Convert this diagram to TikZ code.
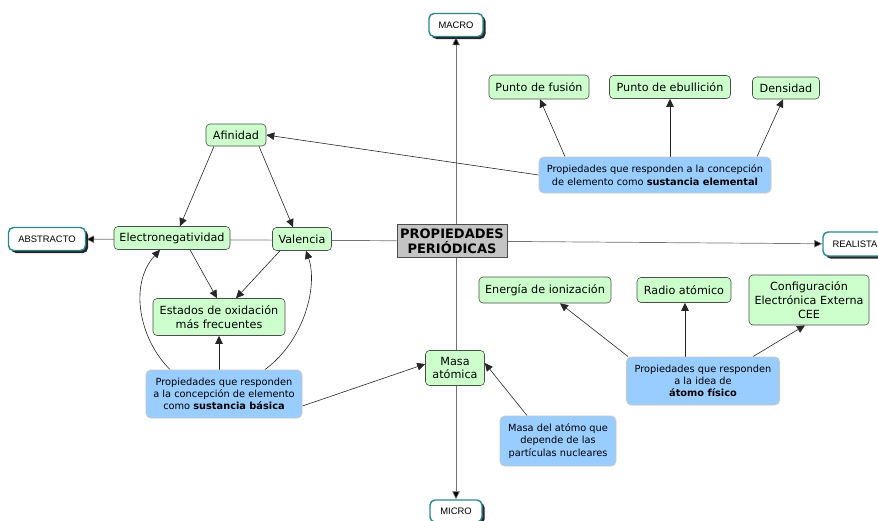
\documentclass[tikz,border=0pt]{standalone}
\usepackage{fontspec}
\setmainfont{DejaVu Sans}
\newfontfamily\polefont{Liberation Sans}
\usetikzlibrary{arrows.meta,shadows,backgrounds}

\definecolor{conceptgreen}{HTML}{CCFFCC}
\definecolor{noteblue}{HTML}{99CCFF}
\definecolor{poleteal}{HTML}{2A868C}
\definecolor{centergray}{HTML}{C4C4C4}

\tikzset{
  concept/.style={draw=black!70, fill=conceptgreen, rounded corners=4pt,
    line width=0.6pt, align=center, inner sep=2pt,
    font=\fontsize{11.2}{13.8}\selectfont},
  note/.style={draw=black!22, fill=noteblue, rounded corners=5pt,
    line width=0.9pt, align=center, inner sep=2pt,
    font=\fontsize{9.8}{12.3}\selectfont},
  pole/.style={draw=poleteal, fill=white, rounded corners=5pt,
    line width=1.4pt, align=center, inner sep=2pt,
    font=\polefont\fontsize{9.4}{10}\selectfont,
    drop shadow={shadow xshift=2.5pt, shadow yshift=-2.5pt, fill=black!85, opacity=1}},
  central/.style={draw=black!70, fill=centergray, line width=0.8pt,
    align=center, inner sep=2pt,
    font=\bfseries\fontsize{13}{15}\selectfont},
  link/.style={draw=black!85, line width=0.6pt,
    -{Triangle[length=8pt,width=7.5pt]}},
  axis/.style={draw=black!55, line width=0.7pt},
  axisarrow/.style={axis, -{Triangle[length=8pt,width=7.5pt,fill=black]}}
}

\begin{document}
\begin{tikzpicture}[x=1pt,y=-1pt]
\useasboundingbox (0,0) rectangle (878,520);

% poles of the two axes
\node[pole, minimum width=54pt, minimum height=23pt] (macro) at (456,25) {MACRO};
\node[pole, minimum width=52pt, minimum height=22pt] (micro) at (456,511) {MICRO};
\node[pole, minimum width=77pt, minimum height=23pt] (abstracto) at (47,239) {ABSTRACTO};
\node[pole, minimum width=64pt, minimum height=24pt] (realista) at (855,244) {REALISTA};

% central concept
\node[central, minimum width=110pt, minimum height=33pt] (prop) at (452,241)
  {PROPIEDADES\\PERIÓDICAS};

% left group
\node[concept, minimum width=60pt, minimum height=22pt] (afinidad) at (236,135) {Afinidad};
\node[concept, minimum width=116pt, minimum height=23pt] (electroneg) at (172,238) {Electronegatividad};
\node[concept, minimum width=59pt, minimum height=23pt] (valencia) at (302,239) {Valencia};
\node[concept, minimum width=132pt, minimum height=37pt] (estados) at (219,317)
  {Estados de oxidación\\más frecuentes};
\node[note, minimum width=156pt, minimum height=48pt] (basica) at (224,394)
  {Propiedades que responden\\a la concepción de elemento\\como \textbf{sustancia básica}};

% lower middle
\node[concept, minimum width=59pt, minimum height=35pt] (masa) at (455,368) {Masa\\atómica};
\node[note, minimum width=116pt, minimum height=50pt] (masanote) at (558,441)
  {Masa del atómo que\\depende de las\\partículas nucleares};

% upper right group
\node[note, minimum width=232pt, minimum height=36pt] (elemental) at (655,175)
  {Propiedades que responden a la concepción\\de elemento como \textbf{sustancia elemental}};
\node[concept, minimum width=100pt, minimum height=24pt] (fusion) at (539,87) {Punto de fusión};
\node[concept, minimum width=121pt, minimum height=23pt] (ebullicion) at (670,87) {Punto de ebullición};
\node[concept, minimum width=67pt, minimum height=22pt] (densidad) at (786,88) {Densidad};

% lower right group
\node[concept, minimum width=132pt, minimum height=26pt] (energia) at (545,290) {Energía de ionización};
\node[concept, minimum width=94pt, minimum height=25pt] (radio) at (684,290) {Radio atómico};
\node[concept, minimum width=120pt, minimum height=50pt] (cee) at (809,300)
  {Configuración\\Electrónica Externa\\CEE};
\node[note, minimum width=153pt, minimum height=48pt] (fisico) at (703,381)
  {Propiedades que responden\\a la idea de\\\textbf{átomo físico}};

\begin{scope}[on background layer]
  % axes running behind the concepts
  \draw[axisarrow] (macro |- prop.north) -- (macro);
  \draw[axisarrow] (micro |- prop.south) -- (micro);
  \draw[axisarrow] (prop) -- (abstracto);
  \draw[axisarrow] (prop) -- (realista);

  % left group links
  \draw[link] ([xshift=-22pt]afinidad.south) -- ([xshift=8pt]electroneg.north);
  \draw[link] ([xshift=23pt]afinidad.south) -- ([xshift=-9pt]valencia.north);
  \draw[link] ([xshift=18pt]electroneg.south) -- ([xshift=-2pt]estados.north);
  \draw[link] ([xshift=-22pt]valencia.south) -- ([xshift=17pt]estados.north);
  \draw[link] ([xshift=-5pt]basica.north) -- (estados.south);
  \draw[link] ([xshift=-54pt]basica.north)
     .. controls (140,340) and (128,285) .. ([xshift=-12pt]electroneg.south);
  \draw[link] ([xshift=41pt]basica.north)
     .. controls (305,340) and (318,285) .. ([xshift=4pt]valencia.south);
  \draw[link] ([yshift=-12pt]basica.east) -- ([yshift=4pt]masa.west);
  \draw[link] ([xshift=-31pt]masanote.north) -- ([yshift=5pt]masa.east);

  % upper right links
  \draw[link] (elemental.west) -- (afinidad.east);
  \draw[link] ([xshift=-90pt]elemental.north) -- ([xshift=1pt]fusion.south);
  \draw[link] ([xshift=15pt]elemental.north) -- (ebullicion.south);
  \draw[link] ([xshift=102pt]elemental.north) -- ([xshift=-3pt]densidad.south);

  % lower right links
  \draw[link] ([xshift=2pt]fisico.north west) -- ([xshift=15pt]energia.south);
  \draw[link] ([xshift=-18pt]fisico.north) -- ([xshift=1pt]radio.south);
  \draw[link] ([xshift=50pt]fisico.north) -- ([xshift=-4pt]cee.south);
\end{scope}
\end{tikzpicture}
\end{document}
